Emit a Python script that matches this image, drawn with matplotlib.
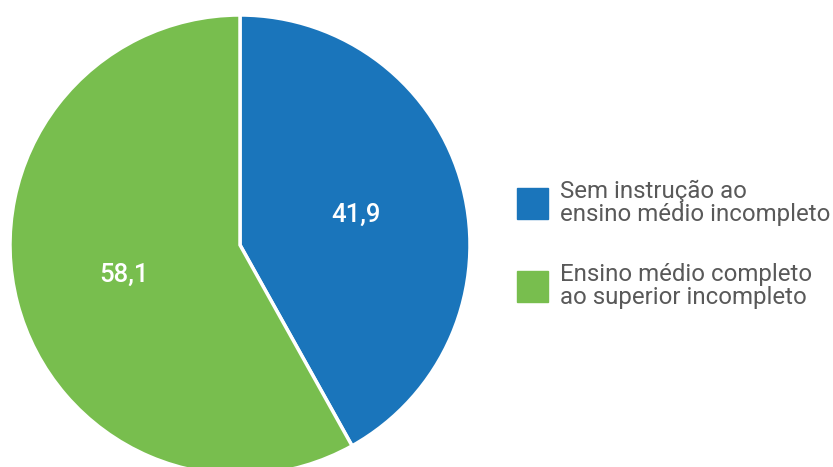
import matplotlib.pyplot as plt
from matplotlib.patches import Rectangle

# Escolaridade (%)
categorias = ["Sem instrução ao\nensino médio incompleto",
              "Ensino médio completo\nao superior incompleto"]
valores = [41.9, 58.1]
cores = ["#1a75bb", "#78be4e"]

plt.rcParams['font.family'] = ['Roboto', 'DejaVu Sans']

fig = plt.figure(figsize=(8.33, 4.67), dpi=100)
ax = fig.add_axes([0, 0, 1, 1])

wedges, _, autotexts = ax.pie(
    valores, colors=cores, startangle=90, counterclock=False,
    center=(240, 222), radius=230, frame=True,
    autopct=lambda p: f"{p:.1f}".replace(".", ","), pctdistance=0.52,
    wedgeprops=dict(edgecolor="white", linewidth=2.5),
    textprops=dict(color="white", fontsize=18.5, fontweight="medium"))
ax.set_xlim(0, 833)
ax.set_ylim(0, 467)
ax.set_aspect('equal')
ax.axis('off')

# legenda manual
for i, (cat, cor) in enumerate(zip(categorias, cores)):
    yc = 264 - i * 83
    ax.add_patch(Rectangle((517, yc - 15.5), 31, 31, color=cor))
    ax.text(560, yc, cat, fontsize=17.3, color="#595959", va="center",
            ha="left", linespacing=1.02)

fig.savefig("out.png", dpi=100)
